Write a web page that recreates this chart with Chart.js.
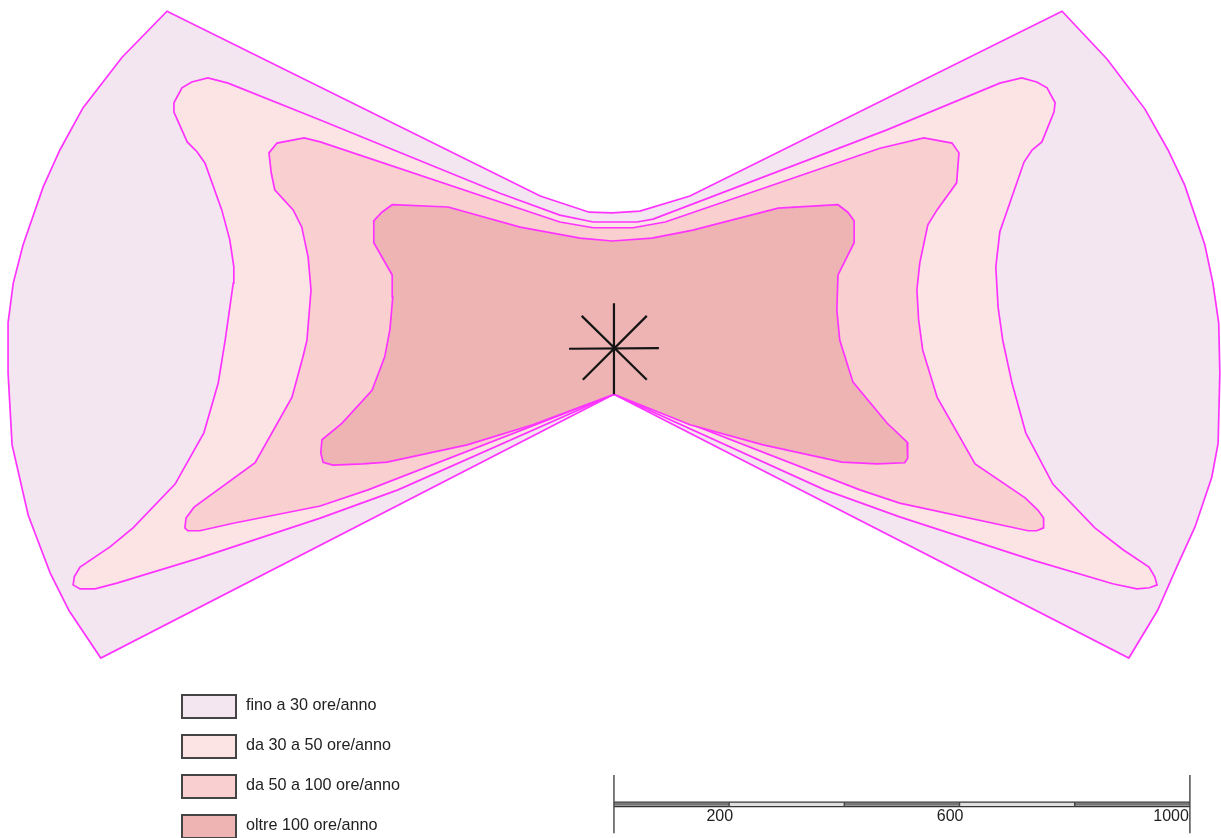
<!DOCTYPE html>
<html>
<head>
<meta charset="utf-8">
<title>Ombreggiamento</title>
<script src="https://cdn.jsdelivr.net/npm/chart.js@4"></script>
<style>
  body { margin: 0; background: #fff; }
  #wrap { position: relative; width: 1221px; height: 838px; overflow: hidden; }
  canvas { display: block; }
  .legend-item { position: absolute; left: 181px; font: 16.2px "Liberation Sans", Arial, sans-serif; color: #222; }
  .legend-item i { position: absolute; left: 0; top: 0; box-sizing: border-box; width: 56px; height: 25px; border: 2px solid #444; }
  .legend-item span { position: absolute; left: 65px; top: 1px; white-space: nowrap; }
</style>
</head>
<body>
<div id="wrap"><canvas id="shadowChart" width="1221" height="838"></canvas></div>
<script>
// all values are metres from the turbine
const zone30 = [[0,-82],[-891,-540],[-946,-458],[-979,-392],[-1017,-292],[-1045,-170],[-1052,-45],[-1052,42],[-1043,111],[-1026,177],[-991,278],[-962,342],[-922,415],[-854,503],[-776,583],[-128,262],[-43,234],[-3,233],[45,236],[132,262],[778,583],[856,500],[922,413],[962,342],[991,281],[1026,177],[1040,111],[1050,42],[1052,-45],[1049,-167],[1038,-226],[1009,-312],[977,-382],[944,-457],[894,-540],[0,-82]];

const zone50 = [[0,-82],[-375,-248],[-510,-297],[-719,-366],[-863,-410],[-901,-420],[-927,-420],[-939,-413],[-937,-399],[-927,-382],[-875,-347],[-835,-314],[-762,-238],[-712,-149],[-687,-62],[-675,12],[-661,111],[-660,139],[-667,186],[-681,238],[-710,319],[-724,339],[-741,356],[-764,408],[-764,424],[-750,450],[-733,460],[-705,467],[-670,458],[-510,394],[-198,267],[-94,229],[-36,217],[40,217],[68,222],[474,377],[670,458],[708,467],[734,460],[752,450],[766,424],[764,408],[743,356],[726,342],[712,321],[670,200],[663,139],[667,69],[675,12],[691,-62],[715,-149],[762,-238],[835,-314],[884,-352],[929,-382],[939,-399],[943,-413],[930,-418],[908,-420],[866,-411],[727,-370],[496,-295],[366,-248],[0,-82]];

const zone100 = [[0,-82],[-427,-248],[-510,-276],[-661,-306],[-719,-319],[-740,-319],[-745,-314],[-743,-297],[-729,-278],[-623,-201],[-559,-87],[-540,-17],[-533,12],[-526,99],[-531,156],[-542,208],[-557,238],[-589,273],[-595,302],[-599,337],[-585,354],[-538,363],[-510,356],[-94,217],[-36,207],[33,207],[89,217],[462,345],[538,363],[587,354],[599,337],[595,285],[561,238],[545,212],[531,146],[526,99],[529,47],[536,-5],[561,-87],[627,-203],[714,-262],[736,-283],[746,-297],[746,-314],[734,-319],[719,-319],[496,-271],[427,-248],[0,-82]];

const zoneOver = [[0,-82],[-141,-135],[-255,-170],[-394,-200],[-436,-203],[-488,-205],[-505,-200],[-509,-184],[-507,-161],[-472,-132],[-420,-75],[-398,-17],[-389,30],[-384,87],[-385,125],[-417,181],[-417,219],[-403,234],[-385,247],[-288,243],[-163,208],[-59,189],[-3,184],[66,189],[137,203],[285,241],[389,247],[406,234],[417,219],[417,181],[389,125],[387,64],[392,12],[415,-61],[474,-132],[509,-165],[510,-193],[505,-201],[457,-203],[396,-200],[259,-170],[132,-135],[0,-82]];

const turbineArms = [
  [[0,76],[0,-82]],
  [[-78,-3],[78,-2]],
  [[-56,54],[57,-57]],
  [[-54,-57],[57,54]]
];

const zoneLabels = ['fino a 30 ore/anno', 'da 30 a 50 ore/anno', 'da 50 a 100 ore/anno', 'oltre 100 ore/anno'];
const zoneColors = ['#f3e6f0', '#fce4e5', '#facfd0', '#eeb4b4'];
const zoneData = [zone30, zone50, zone100, zoneOver];

const scaleStops = [0, 200, 400, 600, 800, 1000];
const scaleLabels = [200, 600, 1000];

const barY = -794;
const lineColor = '#ff33ff';

function toPoints(list) {
  return list.map(p => ({ x: p[0], y: p[1] }));
}

function lineSet(points, color, width) {
  return { data: points, showLine: true, pointRadius: 0, borderColor: color, borderWidth: width, fill: false, tension: 0 };
}

const datasets = [];

// scale bar
scaleStops.forEach(s => {
  const tall = s === 0 || s === 1000;
  const top = tall ? -743 : barY + 4;
  const bottom = tall ? -844 : barY - 4;
  datasets.push(lineSet([{ x: s, y: top }, { x: s, y: bottom }], '#444', 1.4));
});
datasets.push(lineSet([{ x: 0, y: barY + 4 }, { x: 1000, y: barY + 4 }], '#333', 1.3));
datasets.push(lineSet([{ x: 0, y: barY - 4 }, { x: 1000, y: barY - 4 }], '#333', 1.3));
scaleStops.slice(0, -1).forEach((s, i) => {
  const color = i % 2 === 0 ? '#777' : '#ddd';
  datasets.push(lineSet([{ x: s, y: barY }, { x: scaleStops[i + 1], y: barY }], color, 3));
});

// turbine
turbineArms.forEach(arm => {
  datasets.push(lineSet(toPoints(arm), '#141414', 2.2));
});

// shadow zones, first dataset ends up on top so innermost goes first
[3, 2, 1, 0].forEach(i => {
  datasets.push({
    label: zoneLabels[i],
    data: toPoints(zoneData[i]),
    showLine: true,
    pointRadius: 0,
    tension: 0,
    borderColor: lineColor,
    borderWidth: 1.7,
    backgroundColor: zoneColors[i],
    fill: 'shape'
  });
});

const scaleTextPlugin = {
  id: 'scaleText',
  afterDraw(chart) {
    const ctx = chart.ctx;
    ctx.save();
    ctx.font = '16px "Liberation Sans", Arial, sans-serif';
    ctx.fillStyle = '#222';
    ctx.textAlign = 'right';
    ctx.textBaseline = 'middle';
    scaleLabels.forEach(v => {
      const shift = v === 1000 ? -1 : 4;
      ctx.fillText(String(v), chart.scales.x.getPixelForValue(v) + shift, chart.scales.y.getPixelForValue(-815));
    });
    ctx.restore();
  }
};

new Chart(document.getElementById('shadowChart').getContext('2d'), {
  type: 'scatter',
  data: { datasets: datasets },
  plugins: [scaleTextPlugin],
  options: {
    responsive: false,
    animation: false,
    layout: { padding: 0 },
    plugins: { legend: { display: false }, tooltip: { enabled: false } },
    scales: {
      x: { display: false, min: -1066, max: 1054 },
      y: { display: false, min: -852.4, max: 602.4 }
    }
  }
});

// legend
const wrap = document.getElementById('wrap');
const legendTops = [694, 734, 774, 814];
zoneLabels.forEach((label, i) => {
  const item = document.createElement('div');
  item.className = 'legend-item';
  item.style.top = legendTops[i] + 'px';
  const box = document.createElement('i');
  box.style.background = zoneColors[i];
  const text = document.createElement('span');
  text.textContent = label;
  item.appendChild(box);
  item.appendChild(text);
  wrap.appendChild(item);
});
</script>
</body>
</html>
